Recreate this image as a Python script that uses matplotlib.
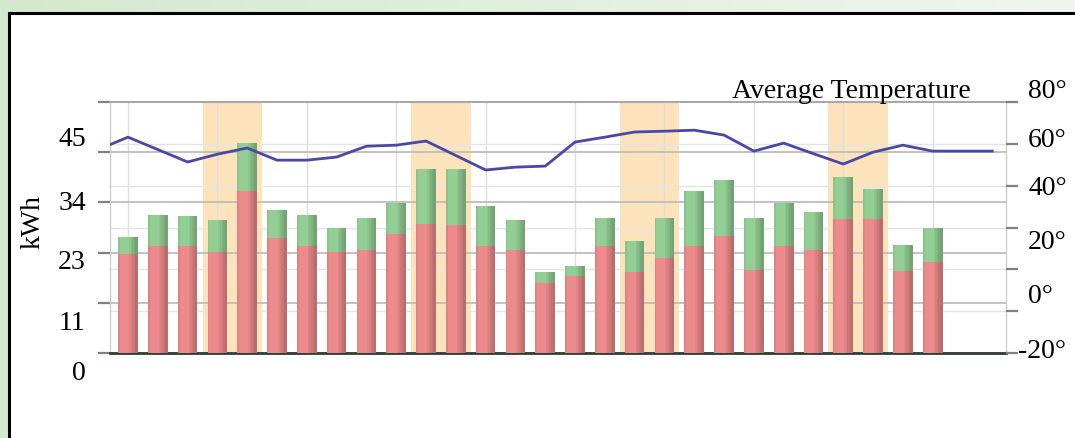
import matplotlib.pyplot as plt
import numpy as np
from matplotlib.patches import Rectangle
from matplotlib.colors import LinearSegmentedColormap

plt.rcParams['font.family'] = ['Liberation Serif', 'DejaVu Serif']

# Daily electricity use over 28 days (kWh): base part (red) and total bar height
base_kwh = [21.7, 23.4, 23.4, 22.1, 35.5, 25.2, 23.4, 22.1, 22.6, 26.1, 28.3, 28.0, 23.4, 22.6,
            15.3, 16.9, 23.4, 17.7, 20.8, 23.4, 25.6, 18.2, 23.4, 22.6, 29.4, 29.4, 18.0, 19.9]
total_kwh = [25.4, 30.2, 30.0, 29.1, 46.0, 31.3, 30.2, 27.4, 29.6, 32.9, 40.3, 40.3, 32.2, 29.1,
             17.7, 19.1, 29.6, 24.5, 29.6, 35.5, 37.9, 29.6, 32.9, 30.9, 38.6, 35.9, 23.7, 27.4]
extra_kwh = [t - b for t, b in zip(total_kwh, base_kwh)]
days = np.arange(len(base_kwh))
weekend_days = [3, 4, 10, 11, 17, 18, 24, 25]

# Average temperature, from the day before the first bar up to two days after the last one
temp_days = np.arange(-1, 30)
avg_temp = [56.0, 60.8, 56.0, 51.2, 54.2, 56.6, 51.9, 51.9, 53.1, 57.3, 57.7, 59.3, 53.7, 48.1,
            49.2, 49.6, 58.9, 60.8, 62.8, 63.1, 63.5, 61.6, 55.4, 58.5, 54.4, 50.4, 55.0, 57.7,
            55.4, 55.4, 55.4]

# Axis labels as printed on the original (they don't line up with the tick marks)
kwh_labels = ['45', '34', '23', '11', '0']
kwh_label_pos = [45.6, 31.6, 18.6, 5.3, -5.7]
temp_labels = ['80°', '60°', '40°', '20°', '0°', '-20°']
temp_label_pos = [76.3, 57.3, 38.8, 17.9, -3.0, -24.3]

W, H = 1075, 439
fig = plt.figure(figsize=(W / 100, H / 100), dpi=100)

# green page background with the black-edged white panel
bg = fig.add_axes([0, 0, 1, 1], zorder=-10)
bg_cmap = LinearSegmentedColormap.from_list('bg', ['#d4e8cf', '#f0f6ee'])
bg.imshow(np.linspace(0, 1, 256).reshape(1, -1), cmap=bg_cmap, aspect='auto',
          extent=[0, 1, 0, 1])
bg.add_patch(Rectangle((8.5 / W, -0.1), 1.0, 1.1 - 13.5 / H, facecolor='white',
                       edgecolor='black', linewidth=2.2))
bg.set_xlim(0, 1)
bg.set_ylim(0, 1)
bg.axis('off')

ax = fig.add_axes([110 / W, 85 / H, 896 / W, 251 / H])
ax.set_facecolor('none')
ax.set_xlim(-0.604, 29.46)
ax.set_ylim(0, 55)

# weekend shading
for d in weekend_days:
    ax.axvspan(d - 0.5, d + 0.5, color='#fde3bb', lw=0, zorder=0)

# grid
ax.set_yticks(np.arange(0, 56, 11))
ax.set_xticks(np.arange(0, len(days), 3))
ax.grid(axis='y', color='#bdbdbd', lw=1.3, zorder=1)
ax.grid(axis='x', color='#dedede', lw=1.0, zorder=1)
for y in np.linspace(0, 55, 7)[1:-1]:
    ax.axhline(y, color='#e4e4e4', lw=1.0, zorder=1)
ax.set_axisbelow(True)
ax.tick_params(axis='y', length=8.6, width=1.6, color='#808080', labelleft=False)
ax.tick_params(axis='x', length=0, labelbottom=False)

for side in ['left', 'right']:
    ax.spines[side].set_color('#cccccc')
    ax.spines[side].set_linewidth(1.0)
ax.spines['top'].set_color('#a8a8a8')
ax.spines['top'].set_linewidth(1.5)
ax.spines['bottom'].set_color('#2e3d38')
ax.spines['bottom'].set_linewidth(2.0)

# stacked bars, with a soft darkening toward the right edge for the rounded look
bar_w = 0.66
ax.bar(days, base_kwh, width=bar_w, color='#ec8a8c', zorder=3)
ax.bar(days, extra_kwh, bottom=base_kwh, width=bar_w, color='#93ce94', zorder=3)
for k in range(5):
    strip = bar_w * (0.45 - 0.08 * k)
    ax.bar(days + bar_w / 2 - strip / 2, total_kwh, width=strip, color='black',
           alpha=0.045, lw=0, zorder=4)
ax.bar(days - bar_w / 2 + 0.03, total_kwh, width=0.06, color='black', alpha=0.05, lw=0, zorder=4)

# temperature on the right axis
ax2 = ax.twinx()
ax2.set_ylim(-22.7, 74.4)
ax2.set_yticks(np.linspace(-22.7, 74.4, 7))
ax2.tick_params(axis='y', length=8.6, width=1.6, color='#808080', labelright=False)
for s in ax2.spines.values():
    s.set_visible(False)
ax2.plot(temp_days, avg_temp, color='#4a48a6', lw=2.0, zorder=5, solid_joinstyle='round')

# tick labels
for lab, pos in zip(kwh_labels, kwh_label_pos):
    ax.text(-0.027, pos, lab, transform=ax.get_yaxis_transform(), ha='right', va='baseline',
            fontsize=20, clip_on=False)
for lab, pos in zip(temp_labels, temp_label_pos):
    x = 1.0246 - (0.011 if lab.startswith('-') else 0)
    ax2.text(x, pos, lab, transform=ax2.get_yaxis_transform(), ha='left', va='baseline',
             fontsize=20, clip_on=False)

ax.text(-0.0859, 0.526, 'kWh', transform=ax.transAxes, rotation=90, ha='center', va='center',
        fontsize=20)
ax.text(0.961, 1.02, 'Average Temperature', transform=ax.transAxes, ha='right', va='baseline',
        fontsize=20)

fig.savefig('out.png', dpi=100)
